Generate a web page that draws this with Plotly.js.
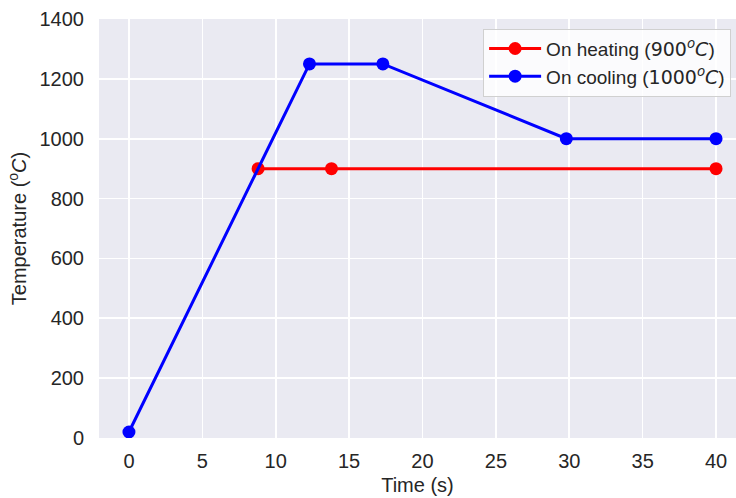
<!DOCTYPE html>
<html><head><meta charset="utf-8">
<script src="https://cdn.plot.ly/plotly-3.0.1.min.js"></script>
<style>html,body{margin:0;padding:0;background:#fff;}</style>
</head><body>
<div id="chart" style="width:736px;height:498px;"></div>
<script>
const heatTime = [8.8, 13.8, 40];
const heatTemp = [900, 900, 900];
const coolTime = [0, 12.3, 17.3, 29.8, 40];
const coolTemp = [20, 1250, 1250, 1000, 1000];
const heatName = 'On heating (<span style="font-family:DejaVu Sans">900<sup><i>o</i></sup><i>C</i></span>)';
const coolName = 'On cooling (<span style="font-family:DejaVu Sans">1000<sup><i>o</i></sup><i>C</i></span>)';
const xTicks = [0, 5, 10, 15, 20, 25, 30, 35, 40];
const yTicks = [0, 200, 400, 600, 800, 1000, 1200, 1400];

const font = {family: 'Liberation Sans, Arial, sans-serif', size: 20, color: '#262626'};
const traces = [
  {x: heatTime, y: heatTemp, name: heatName, mode: 'lines+markers',
   line: {color: '#ff0000', width: 3}, marker: {color: '#ff0000', size: 13}},
  {x: coolTime, y: coolTemp, name: coolName, mode: 'lines+markers',
   line: {color: '#0000ff', width: 3}, marker: {color: '#0000ff', size: 13}}
];
const layout = {
  width: 736, height: 498,
  margin: {l: 99, r: 0, t: 19, b: 60, pad: 0, autoexpand: false},
  paper_bgcolor: '#ffffff', plot_bgcolor: '#eaeaf2',
  font: font,
  showlegend: true,
  legend: {x: 0.603, y: 0.977, xanchor: 'left', yanchor: 'top',
    bgcolor: 'rgba(255,255,255,0.8)', bordercolor: '#d0d0d0', borderwidth: 1,
    font: {family: 'Liberation Sans, Arial, sans-serif', size: 19, color: '#262626'},
    itemwidth: 52, tracegroupgap: 0},
  xaxis: {range: [-2.04, 41.36], tickvals: xTicks, ticktext: xTicks.map(String),
    showgrid: true, gridcolor: '#ffffff', gridwidth: 1.6, zeroline: false,
    showline: false, ticks: '', ticklen: 0, tickfont: font, ticklabelstandoff: 9,
    title: {text: 'Time (s)', font: font, standoff: 6}},
  yaxis: {range: [0, 1400], tickvals: yTicks, ticktext: yTicks.map(String),
    showgrid: true, gridcolor: '#ffffff', gridwidth: 1.6, zeroline: false,
    showline: false, ticks: '', ticklen: 0, tickfont: font, ticklabelstandoff: 14,
    title: {text: 'Temperature (<sup>o</sup><i>C</i>)', font: font, standoff: 7}}
};
Plotly.newPlot('chart', traces, layout, {displayModeBar: false, staticPlot: true});
</script>
</body></html>
